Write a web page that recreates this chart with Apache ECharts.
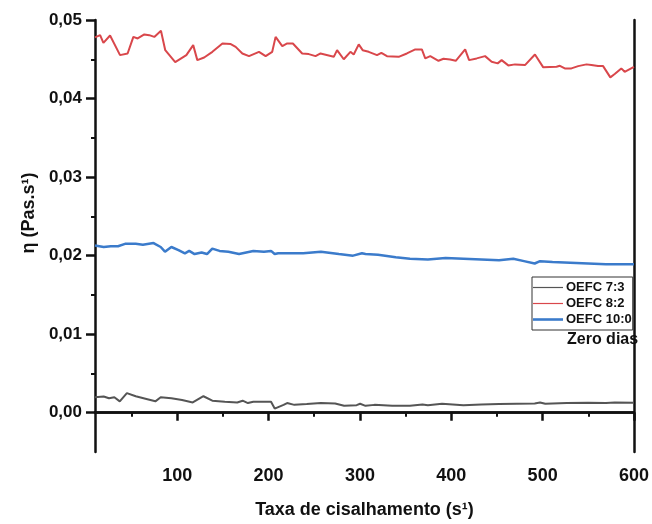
<!DOCTYPE html>
<html>
<head>
<meta charset="utf-8">
<script src="https://cdn.jsdelivr.net/npm/echarts@6/dist/echarts.min.js"></script>
<style>html,body{margin:0;padding:0;background:#fff}#c{width:652px;height:524px}</style>
</head>
<body>
<div id="c"></div>
<script>
const seriesNames = ['OEFC 7:3', 'OEFC 8:2', 'OEFC 10:0'];
const xTicks = [100, 200, 300, 400, 500, 600];
const xMinorTicks = [50, 150, 250, 350, 450, 550];
const yTicks = [0, 0.01, 0.02, 0.03, 0.04, 0.05];
const yMinorTicks = [0.005, 0.015, 0.025, 0.035, 0.045];

const grayX = [10,19.5,25.3,31.2,37.1,44.9,54.6,66.3,76.1,81.9,93.6,105.3,117,128.7,138.4,152.1,165.7,171.6,177.4,183.3,202.7,206.7,216.4,220.3,228.2,241.8,257.3,272.9,282.7,296.4,300.2,306.1,315.8,335.4,354.8,368.5,374.4,389.9,413.3,432.9,452.3,471.8,491.3,497.2,502.9,526.4,549.8,569.3,579,600];
const grayY = [0.00197,0.00206,0.00184,0.00197,0.00145,0.0025,0.0021,0.00175,0.00145,0.00197,0.00184,0.00162,0.00131,0.0021,0.00153,0.0014,0.00131,0.00153,0.00123,0.0014,0.0014,0.00053,0.001,0.00123,0.001,0.0011,0.00123,0.00118,0.00088,0.00096,0.00114,0.00088,0.001,0.00088,0.00088,0.00105,0.00096,0.00114,0.00096,0.00105,0.0011,0.00114,0.00118,0.00131,0.00114,0.00123,0.00127,0.00123,0.00131,0.00127];

const redX = [10,15.6,19.2,26.5,37.4,45.7,52,56.7,64,69.4,74.9,82.2,86.9,97.8,110,117.5,122,129.5,138.5,149.5,158.6,164,171.3,178.6,189.5,196.8,204,207.7,215,220.4,226.6,236.8,244,251.4,256.9,271.4,275,282.3,289.6,293.2,298.7,303,309.6,318.7,323.5,329.6,342.4,351.4,360.6,367.8,371.5,377,386,391.5,398.8,404.9,415.2,419.5,427.8,437,444.2,450.8,455.1,462.4,469.8,480.7,491.6,500.7,515.2,518.9,524.3,531.5,538.9,548,553.4,560.7,566.2,574.1,578.9,586.1,589.8,600];
const redY = [0.04778,0.04807,0.04709,0.04803,0.04553,0.04574,0.04785,0.04765,0.04816,0.04807,0.04785,0.04862,0.04616,0.04464,0.04553,0.0468,0.04489,0.04523,0.04595,0.04701,0.04693,0.04658,0.04574,0.0454,0.04595,0.0454,0.04595,0.04785,0.04667,0.04701,0.04701,0.04574,0.04566,0.0454,0.04574,0.04531,0.04616,0.045,0.04595,0.04561,0.04689,0.04616,0.04595,0.04553,0.04582,0.0454,0.04531,0.04574,0.04625,0.04625,0.04511,0.0454,0.04481,0.04506,0.04498,0.04481,0.04625,0.04489,0.04511,0.0454,0.04468,0.04448,0.04489,0.04422,0.04435,0.04426,0.04561,0.04397,0.04404,0.04417,0.04384,0.04384,0.04413,0.04435,0.04426,0.04413,0.04413,0.0427,0.04312,0.04384,0.04341,0.04404];

const blueX = [10,19.5,27.3,35.2,42.9,54.6,62.4,74.1,81.9,86.6,93.6,101.4,108.4,113.1,119,126.7,132.6,138.4,146.3,156,167.7,183.3,195,202.7,206.7,210.6,222.3,237.9,257.3,276.9,292.5,302.2,306.1,319.8,339.2,354.8,374.4,393.8,413.3,432.9,452.3,467.9,479.6,491.3,497.2,510.8,530.2,549.8,569.3,600];
const blueY = [0.0213,0.0211,0.0212,0.0212,0.0215,0.0215,0.0214,0.0216,0.0211,0.0205,0.0211,0.0207,0.0203,0.0206,0.0202,0.0204,0.0202,0.0209,0.0206,0.0205,0.0202,0.0206,0.0205,0.0206,0.0202,0.0203,0.0203,0.0203,0.0205,0.0202,0.0200,0.0203,0.0202,0.0201,0.0198,0.0196,0.0195,0.0197,0.0196,0.0195,0.0194,0.0196,0.0193,0.0190,0.0193,0.0192,0.0191,0.0190,0.0189,0.0189];

const zip = (xs, ys) => xs.map((x, i) => [x, ys[i]]);
const FONT = '"Liberation Sans", Arial, sans-serif';
const AX = '#111';
const GRAY = '#555555', RED = '#d9474b', BLUE = '#3b7bcb';

const chart = echarts.init(document.getElementById('c'), null, {renderer: 'canvas'});
chart.setOption({
  animation: false,
  backgroundColor: '#fff',
  textStyle: {fontFamily: FONT},
  grid: {left: 95, right: 16, top: 20, bottom: 71, containLabel: false},
  title: {
    text: 'Zero dias', left: 567, top: 332,
    textStyle: {fontFamily: FONT, fontSize: 16, fontWeight: 'bold', color: '#111'},
    padding: 0
  },
  legend: {
    orient: 'vertical', left: 532, top: 277,
    padding: [4, 1, 4, 1], itemGap: 3, itemWidth: 30, itemHeight: 14,
    borderColor: '#333', borderWidth: 1, backgroundColor: '#fff',
    textStyle: {fontFamily: FONT, fontSize: 13, fontWeight: 'bold', color: '#111', padding: [0, 0, 0, -2]},
    data: [
      {name: seriesNames[0], icon: 'path://M0,0H30V1.2H0Z', itemStyle: {color: GRAY}},
      {name: seriesNames[1], icon: 'path://M0,0H30V1.2H0Z', itemStyle: {color: RED}},
      {name: seriesNames[2], icon: 'path://M0,0H30V2.6H0Z', itemStyle: {color: BLUE}}
    ]
  },
  xAxis: [
    {
      type: 'value', min: 10, max: 600, position: 'bottom',
      name: 'Taxa de cisalhamento (s¹)', nameLocation: 'middle', nameGap: 49,
      nameTextStyle: {fontFamily: FONT, fontSize: 18, fontWeight: 'bold', color: '#111'},
      axisLine: {lineStyle: {color: AX, width: 2.5}},
      axisTick: {customValues: xTicks, length: 8, lineStyle: {color: AX, width: 2.5}},
      axisLabel: {customValues: xTicks, fontSize: 18, fontWeight: 'bold', color: '#111', margin: 15, fontFamily: FONT},
      splitLine: {show: false}
    },
    {
      type: 'value', min: 10, max: 600, position: 'bottom',
      axisLine: {show: false},
      axisTick: {customValues: xMinorTicks, length: 4, lineStyle: {color: AX, width: 2}},
      axisLabel: {show: false}, splitLine: {show: false}
    },
    {
      type: 'value', min: 10, max: 600, position: 'top',
      axisLine: {lineStyle: {color: AX, width: 2.5}},
      axisTick: {show: false}, axisLabel: {show: false}, splitLine: {show: false}
    }
  ],
  yAxis: [
    {
      type: 'value', min: -0.005, max: 0.05, position: 'left',
      name: 'η (Pas.s¹)', nameLocation: 'middle', nameGap: 57,
      nameTextStyle: {fontFamily: FONT, fontSize: 18, fontWeight: 'bold', color: '#111', padding: [0, 0, 0, 46]},
      axisLine: {lineStyle: {color: AX, width: 2.5}},
      axisTick: {customValues: yTicks, length: 9, lineStyle: {color: AX, width: 2.5}},
      axisLabel: {
        customValues: yTicks, fontSize: 17, fontWeight: 'bold', color: '#111', margin: 13, fontFamily: FONT,
        formatter: v => v.toFixed(2).replace('.', ',')
      },
      splitLine: {show: false}
    },
    {
      type: 'value', min: -0.005, max: 0.05, position: 'left',
      axisLine: {show: false},
      axisTick: {customValues: yMinorTicks, length: 4, lineStyle: {color: AX, width: 2}},
      axisLabel: {show: false}, splitLine: {show: false}
    },
    {
      type: 'value', min: -0.005, max: 0.05, position: 'right',
      axisLine: {lineStyle: {color: AX, width: 2.5}},
      axisTick: {show: false}, axisLabel: {show: false}, splitLine: {show: false}
    }
  ],
  series: [
    {name: seriesNames[0], type: 'line', symbol: 'none', data: zip(grayX, grayY),
     color: GRAY, lineStyle: {color: GRAY, width: 2}},
    {name: seriesNames[1], type: 'line', symbol: 'none', data: zip(redX, redY),
     color: RED, lineStyle: {color: RED, width: 2}},
    {name: seriesNames[2], type: 'line', symbol: 'none', data: zip(blueX, blueY),
     color: BLUE, lineStyle: {color: BLUE, width: 2.5}}
  ]
});
</script>
</body>
</html>
